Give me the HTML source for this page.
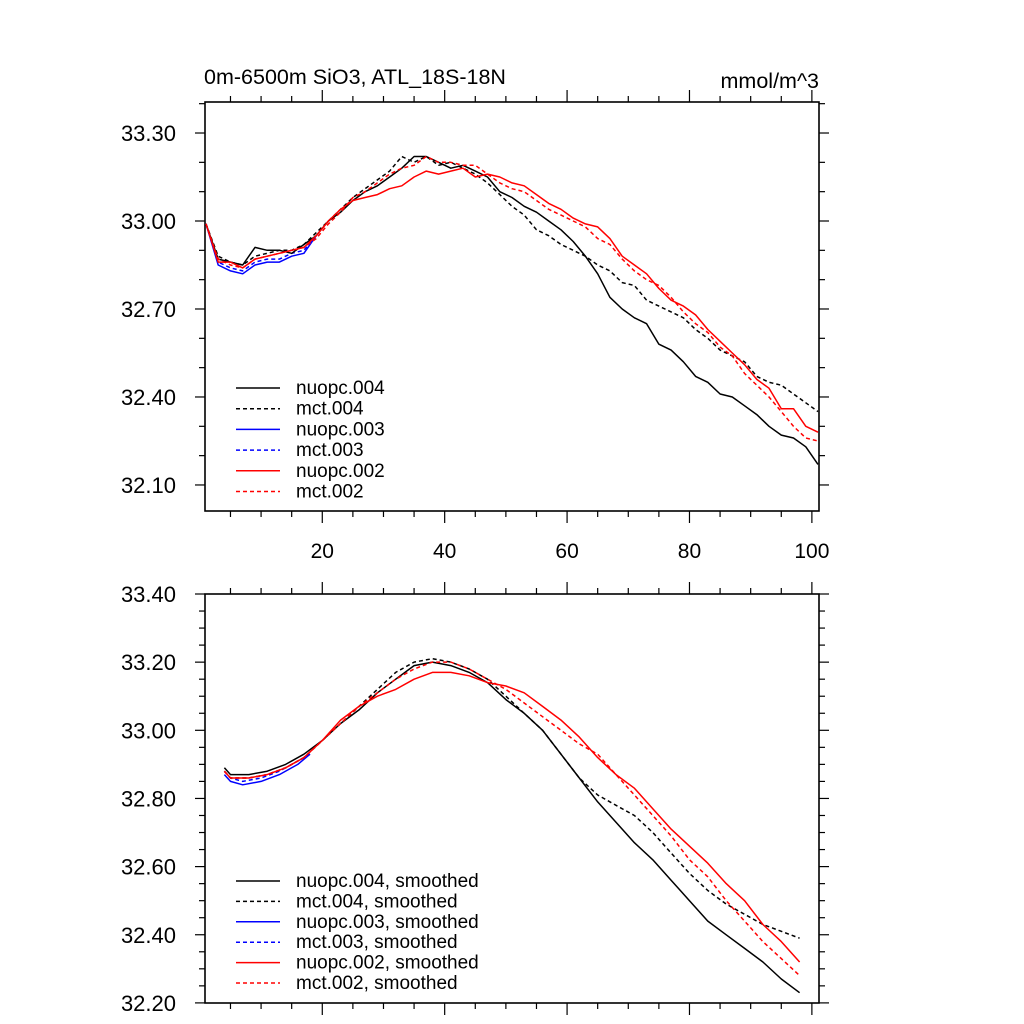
<!DOCTYPE html>
<html><head><meta charset="utf-8"><style>
html,body{margin:0;padding:0;background:#fff;}
svg{display:block;font-family:"Liberation Sans",sans-serif;}
</style></head><body>
<svg id="c" width="1024" height="1024" viewBox="0 0 1024 1024">
<text x="204" y="84" font-size="21.5">0m-6500m SiO3, ATL_18S-18N</text>
<text x="819" y="88" font-size="21.5" text-anchor="end">mmol/m^3</text>
<g id="top"></g>
<g id="bot"></g>
</svg>
<script>
// ---- top panel data (raw) ----
const topX = [1,3,5,7,9,11,13,15,17,19,21,23,25,27,29,31,33,35,37,39,41,43,45,47,49,51,53,55,57,59,61,63,65,67,69,71,73,75,77,79,81,83,85,87,89,91,93,95,97,99,101];
const nuopc004 = [32.99,32.87,32.86,32.85,32.91,32.90,32.90,32.89,32.92,32.95,33.00,33.03,33.07,33.10,33.12,33.15,33.18,33.22,33.22,33.20,33.18,33.19,33.17,33.15,33.10,33.08,33.05,33.03,33.00,32.97,32.93,32.88,32.82,32.74,32.70,32.67,32.65,32.58,32.56,32.52,32.47,32.45,32.41,32.40,32.37,32.34,32.30,32.27,32.26,32.23,32.17];
const mct004 = [32.99,32.88,32.86,32.85,32.88,32.89,32.90,32.90,32.92,32.96,33.00,33.04,33.08,33.11,33.14,33.17,33.22,33.20,33.22,33.19,33.20,33.18,33.16,33.13,33.09,33.05,33.02,32.97,32.95,32.92,32.90,32.88,32.85,32.83,32.79,32.78,32.73,32.71,32.69,32.67,32.63,32.60,32.56,32.54,32.52,32.47,32.45,32.44,32.41,32.38,32.35];
const nuopc002 = [32.99,32.86,32.86,32.84,32.87,32.88,32.89,32.90,32.91,32.95,33.00,33.04,33.07,33.08,33.09,33.11,33.12,33.15,33.17,33.16,33.17,33.18,33.15,33.16,33.15,33.13,33.12,33.09,33.06,33.04,33.01,32.99,32.98,32.94,32.88,32.85,32.82,32.77,32.73,32.71,32.68,32.63,32.59,32.55,32.51,32.46,32.43,32.36,32.36,32.30,32.28];
const mct002 = [32.99,32.87,32.85,32.84,32.87,32.88,32.89,32.90,32.91,32.94,32.99,33.03,33.08,33.10,33.13,33.16,33.18,33.19,33.22,33.20,33.20,33.19,33.19,33.16,33.13,33.11,33.10,33.07,33.04,33.02,33.00,32.98,32.94,32.92,32.87,32.83,32.80,32.78,32.74,32.69,32.65,32.62,32.57,32.54,32.48,32.44,32.40,32.35,32.30,32.26,32.25];
const blueX = [1,3,5,7,9,11,13,15,17,19];
const nuopc003 = [32.99,32.85,32.83,32.82,32.85,32.86,32.86,32.88,32.89,32.95];
const mct003 = [32.99,32.86,32.84,32.83,32.86,32.87,32.87,32.89,32.90,32.95];
// ---- bottom panel data (smoothed) ----
const botX = [4,5,8,11,14,17,20,23,26,29,32,35,38,41,44,47,50,53,56,59,62,65,68,71,74,77,80,83,86,89,92,95,98];
const sNuopc004 = [32.89,32.87,32.87,32.88,32.90,32.93,32.97,33.02,33.06,33.11,33.15,33.19,33.20,33.19,33.17,33.14,33.09,33.05,33.00,32.93,32.86,32.79,32.73,32.67,32.62,32.56,32.50,32.44,32.40,32.36,32.32,32.27,32.23];
const sMct004 = [32.88,32.86,32.86,32.87,32.89,32.92,32.97,33.02,33.07,33.12,33.17,33.20,33.21,33.20,33.18,33.15,33.10,33.05,33.00,32.93,32.86,32.81,32.78,32.75,32.70,32.64,32.58,32.53,32.49,32.46,32.43,32.41,32.39];
const sNuopc002 = [32.88,32.86,32.86,32.87,32.89,32.92,32.97,33.03,33.07,33.10,33.12,33.15,33.17,33.17,33.16,33.14,33.13,33.11,33.07,33.03,32.98,32.92,32.87,32.83,32.77,32.71,32.66,32.61,32.55,32.50,32.43,32.38,32.32];
const sMct002 = [32.88,32.86,32.86,32.87,32.89,32.92,32.97,33.02,33.07,33.11,33.15,33.18,33.20,33.20,33.18,33.15,33.12,33.08,33.04,33.00,32.96,32.93,32.87,32.81,32.75,32.69,32.62,32.57,32.50,32.44,32.38,32.33,32.28];
const sBlueX = [4,5,7,10,13,16,18];
const sNuopc003 = [32.87,32.85,32.84,32.85,32.87,32.90,32.93];
const sMct003 = [32.88,32.86,32.85,32.86,32.88,32.91,32.93];
const topYTicks = ["32.10","32.40","32.70","33.00","33.30"];
const botYTicks = ["32.20","32.40","32.60","32.80","33.00","33.20","33.40"];
const xTicks = ["20","40","60","80","100"];
const legendTop = ["nuopc.004","mct.004","nuopc.003","mct.003","nuopc.002","mct.002"];
const legendBot = ["nuopc.004, smoothed","mct.004, smoothed","nuopc.003, smoothed","mct.003, smoothed","nuopc.002, smoothed","mct.002, smoothed"];

const NS="http://www.w3.org/2000/svg";
const L=205,R=819;
const xs=v=>206+(v-1)*6.12;
function mk(p,t,a){const e=document.createElementNS(NS,t);for(const k in a)e.setAttribute(k,a[k]);p.appendChild(e);return e;}
const styles=[["#000",""],["#000","4 3"],["#0000ff",""],["#0000ff","4 3"],["#ff0000",""],["#ff0000","4 3"]];

function panel(g,T,B,ymin,ymax,ys,majStep,minStep,yLabels,showX){
  const fr=mk(g,'rect',{x:L,y:T,width:R-L,height:B-T,fill:'none',stroke:'#000','stroke-width':1.6});
  
  
  const nMin=Math.round((ymax-ymin)/minStep);
  for(let i=0;i<=nMin;i++){
    const v=ymin+i*minStep;const y=ys(v);
    if(y<T-0.5||y>B+0.5)continue;
    const maj=Math.abs(((v-yLabels.base)/majStep)-Math.round((v-yLabels.base)/majStep))<1e-4;
    const len=maj?10:6;
    const t1=mk(g,'line',{x1:L-len,x2:L,y1:y,y2:y,stroke:'#000','stroke-width':1.2});
    
    
    const t2=mk(g,'line',{x1:R,x2:R+len,y1:y,y2:y,stroke:'#000','stroke-width':1.2});
    
    
  }
  yLabels.list.forEach(s=>{
    const t=mk(g,'text',{x:176,y:ys(parseFloat(s))+8,'font-size':22,'text-anchor':'end'});
    t.textContent=s;
    
    
  });
  for(let v=0;v<=100;v+=5){
    const x=xs(v);if(x<L)continue;
    const len=v%20===0?12:6;
    const a=mk(g,'line',{x1:x,x2:x,y1:T-len,y2:T,stroke:'#000','stroke-width':1.2});
    
    
    const b=mk(g,'line',{x1:x,x2:x,y1:B,y2:B+len,stroke:'#000','stroke-width':1.2});
    
    
  }
  if(showX) xTicks.forEach(s=>{
    const t=mk(g,'text',{x:xs(parseFloat(s)),y:B+47,'font-size':21,'text-anchor':'middle'});
    t.textContent=s;
    
    
  });
}
function series(g,X,Y,ys,st,name){
  const p=mk(g,'polyline',{points:X.map((x,i)=>xs(x).toFixed(1)+','+ys(Y[i]).toFixed(1)).join(' '),fill:'none',stroke:st[0],'stroke-width':1.5,'stroke-dasharray':st[1],'stroke-linejoin':'round'});
  
  
}
function legend(g,labels,y0,dy){
  labels.forEach((s,i)=>{
    const y=y0+i*dy;
    const l=mk(g,'line',{x1:236,x2:280,y1:y,y2:y,stroke:styles[i][0],'stroke-width':1.5,'stroke-dasharray':styles[i][1]});
    
    
    const t=mk(g,'text',{x:296,y:y+6,'font-size':19});
    t.textContent=s;
    
    
  });
}
const gT=document.getElementById('top');
const ysT=v=>221-(v-33.0)*293.3;
panel(gT,102,511,32.0,33.4,ysT,0.3,0.1,{base:32.1,list:topYTicks},true);
series(gT,blueX,mct003,ysT,styles[3],'series-mct003');
series(gT,blueX,nuopc003,ysT,styles[2],'series-nuopc003');
series(gT,topX,mct004,ysT,styles[1],'series-mct004');
series(gT,topX,nuopc004,ysT,styles[0],'series-nuopc004');
series(gT,topX,nuopc002,ysT,styles[4],'series-nuopc002');
series(gT,topX,mct002,ysT,styles[5],'series-mct002');
legend(gT,legendTop,388,20.7);
const gB=document.getElementById('bot');
const ysB=v=>594+(33.4-v)*340.75;
panel(gB,594,1003,32.2,33.4,ysB,0.2,0.05,{base:32.2,list:botYTicks},false);
series(gB,sBlueX,sMct003,ysB,styles[3],'smoothed-mct003');
series(gB,sBlueX,sNuopc003,ysB,styles[2],'smoothed-nuopc003');
series(gB,botX,sMct004,ysB,styles[1],'smoothed-mct004');
series(gB,botX,sNuopc004,ysB,styles[0],'smoothed-nuopc004');
series(gB,botX,sNuopc002,ysB,styles[4],'smoothed-nuopc002');
series(gB,botX,sMct002,ysB,styles[5],'smoothed-mct002');
legend(gB,legendBot,881,20.4);
</script>
</body></html>
